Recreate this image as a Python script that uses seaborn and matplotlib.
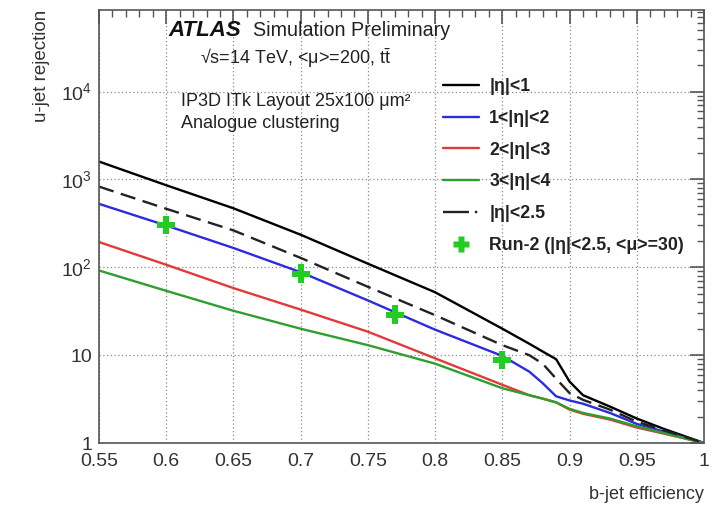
import matplotlib
matplotlib.use("Agg")
import matplotlib.pyplot as plt
from matplotlib.lines import Line2D
from matplotlib.ticker import FixedLocator, FixedFormatter, LogLocator, NullFormatter, MultipleLocator
import seaborn as sns
import numpy as np

# ---------------- data ----------------
eff = [0.55, 0.60, 0.65, 0.70, 0.75, 0.80, 0.85, 0.87, 0.88, 0.89, 0.90, 0.91, 0.93, 0.95, 0.97, 1.00]
rej_eta_lt1 = [1600, 860, 470, 235, 110, 52, 20, 13.5, 11, 9, 5.0, 3.5, 2.6, 1.9, 1.45, 1.0]
rej_eta_1_2 = [528, 299, 166, 88, 42, 19.5, 9.8, 6.5, 4.8, 3.4, 3.05, 2.8, 2.2, 1.65, 1.35, 1.0]
rej_eta_2_3 = [194, 107, 58, 33, 18.5, 9.2, 4.6, 3.5, 3.2, 2.9, 2.4, 2.15, 1.85, 1.5, 1.28, 1.0]
rej_eta_3_4 = [92, 54, 32, 20, 13, 8, 4.2, 3.5, 3.2, 2.9, 2.45, 2.2, 1.9, 1.55, 1.3, 1.0]
rej_eta_lt25 = [830, 464, 263, 128, 60, 28.5, 13, 10, 8, 5.4, 3.7, 3.1, 2.4, 1.75, 1.4, 1.0]

run2_eff = [0.60, 0.70, 0.77, 0.85]
run2_rej = [300, 85, 29, 8.8]

leg_labels = ["|η|<1", "1<|η|<2", "2<|η|<3", "3<|η|<4", "|η|<2.5", "Run-2 (|η|<2.5, <μ>=30)"]

xticks = [0.55, 0.6, 0.65, 0.7, 0.75, 0.8, 0.85, 0.9, 0.95, 1.0]
xticklabels = ["0.55", "0.6", "0.65", "0.7", "0.75", "0.8", "0.85", "0.9", "0.95", "1"]
yticks = [1, 10, 100, 1000, 10000]
yticklabels = ["1", "10", "$10^{2}$", "$10^{3}$", "$10^{4}$"]

# ---------------- style ----------------
sns.set_style("white")
plt.rcParams["font.family"] = ["Liberation Sans", "DejaVu Sans"]
plt.rcParams["mathtext.fontset"] = "custom"
plt.rcParams["mathtext.rm"] = "Liberation Sans"
plt.rcParams["mathtext.it"] = "Liberation Sans:italic"

C_BLACK = "black"
C_BLUE = "#2b2be0"
C_RED = "#e23a3a"
C_GREEN = "#2e9e2e"
C_DASH = "#222222"
C_RUN2 = "#22cc22"
DASH = (0, (6.5, 3.2))

fig = plt.figure(figsize=(7.28, 5.05), dpi=100)
ax = fig.add_axes([99 / 728, 1 - 443 / 505, (704 - 99) / 728, (443 - 10) / 505])

for vals, col in [(rej_eta_lt1, C_BLACK), (rej_eta_1_2, C_BLUE),
                  (rej_eta_2_3, C_RED), (rej_eta_3_4, C_GREEN)]:
    sns.lineplot(x=eff, y=vals, ax=ax, color=col, linewidth=1.7, sort=False)
sns.lineplot(x=eff, y=rej_eta_lt25, ax=ax, color=C_DASH, linewidth=1.7, sort=False,
             dashes=False, linestyle=DASH)
sns.scatterplot(x=run2_eff, y=run2_rej, ax=ax, color=C_RUN2, marker="P", s=170,
                edgecolor="none", zorder=5)

ax.set_yscale("log")
ax.set_xlim(0.55, 1.0)
ax.set_ylim(1, 8.5e4)

ax.xaxis.set_major_locator(FixedLocator(xticks))
ax.xaxis.set_major_formatter(FixedFormatter(xticklabels))
ax.xaxis.set_minor_locator(MultipleLocator(0.01))
ax.yaxis.set_major_locator(FixedLocator(yticks))
ax.yaxis.set_major_formatter(FixedFormatter(yticklabels))
ax.yaxis.set_minor_locator(LogLocator(base=10, subs=np.arange(2, 10)))
ax.yaxis.set_minor_formatter(NullFormatter())

ax.tick_params(which="both", direction="in", top=True, right=True, colors="#555555",
               labelcolor="#333333", labelsize=14)
ax.tick_params(which="major", length=10, width=1.2)
ax.tick_params(which="minor", length=5, width=1.0)
ax.tick_params(axis="x", pad=7)
ax.tick_params(axis="y", pad=5)

for s in ax.spines.values():
    s.set_color("#555555")
    s.set_linewidth(1.2)

ax.grid(True, which="major", linestyle=(0, (1, 2)), color="#8a8a8a", linewidth=0.9)

ax.set_xlabel("b-jet efficiency", loc="right", fontsize=13, color="#333333", labelpad=12)
ax.set_ylabel("u-jet rejection", loc="top", fontsize=13.5, color="#333333", labelpad=8)

# ---------------- annotations ----------------
ft = fig.transFigure
ax.text(168 / 728, 1 - 30 / 505, "ATLAS", transform=ft, fontsize=16,
        fontweight="bold", fontstyle="italic", va="center", ha="left", color="#111111")
ax.text(253 / 728, 1 - 30 / 505, "Simulation Preliminary", transform=ft,
        fontsize=14.2, va="center", ha="left", color="#222222")
ax.text(200 / 728, 1 - 58 / 505, r"√s=14 TeV, <μ>=200, $\mathrm{t}\bar{\mathrm{t}}$", transform=ft,
        fontsize=13, va="center", ha="left", color="#222222")
ax.text(181 / 728, 1 - 101 / 505, "IP3D ITk Layout 25x100 μm²", transform=ft,
        fontsize=13, va="center", ha="left", color="#222222")
ax.text(181 / 728, 1 - 124 / 505, "Analogue clustering", transform=ft,
        fontsize=13, va="center", ha="left", color="#222222")

# ---------------- legend ----------------
handles = [
    Line2D([], [], color=C_BLACK, lw=1.7),
    Line2D([], [], color=C_BLUE, lw=1.7),
    Line2D([], [], color=C_RED, lw=1.7),
    Line2D([], [], color=C_GREEN, lw=1.7),
    Line2D([], [], color=C_DASH, lw=1.7, linestyle=(0, (11, 2.5, 1, 10))),
    Line2D([], [], color=C_RUN2, marker="P", markersize=12, linestyle="none",
           markeredgecolor="none"),
]
leg = ax.legend(handles, leg_labels, loc="upper left", bbox_to_anchor=(436 / 728, 1 - 71 / 505),
                bbox_transform=ft, frameon=False, handlelength=2.0,
                handletextpad=0.6, labelspacing=0.83, borderaxespad=0,
                prop={"weight": "bold", "size": 12.8})
for t in leg.get_texts():
    t.set_color("#222222")

fig.savefig("out.png", dpi=100)
